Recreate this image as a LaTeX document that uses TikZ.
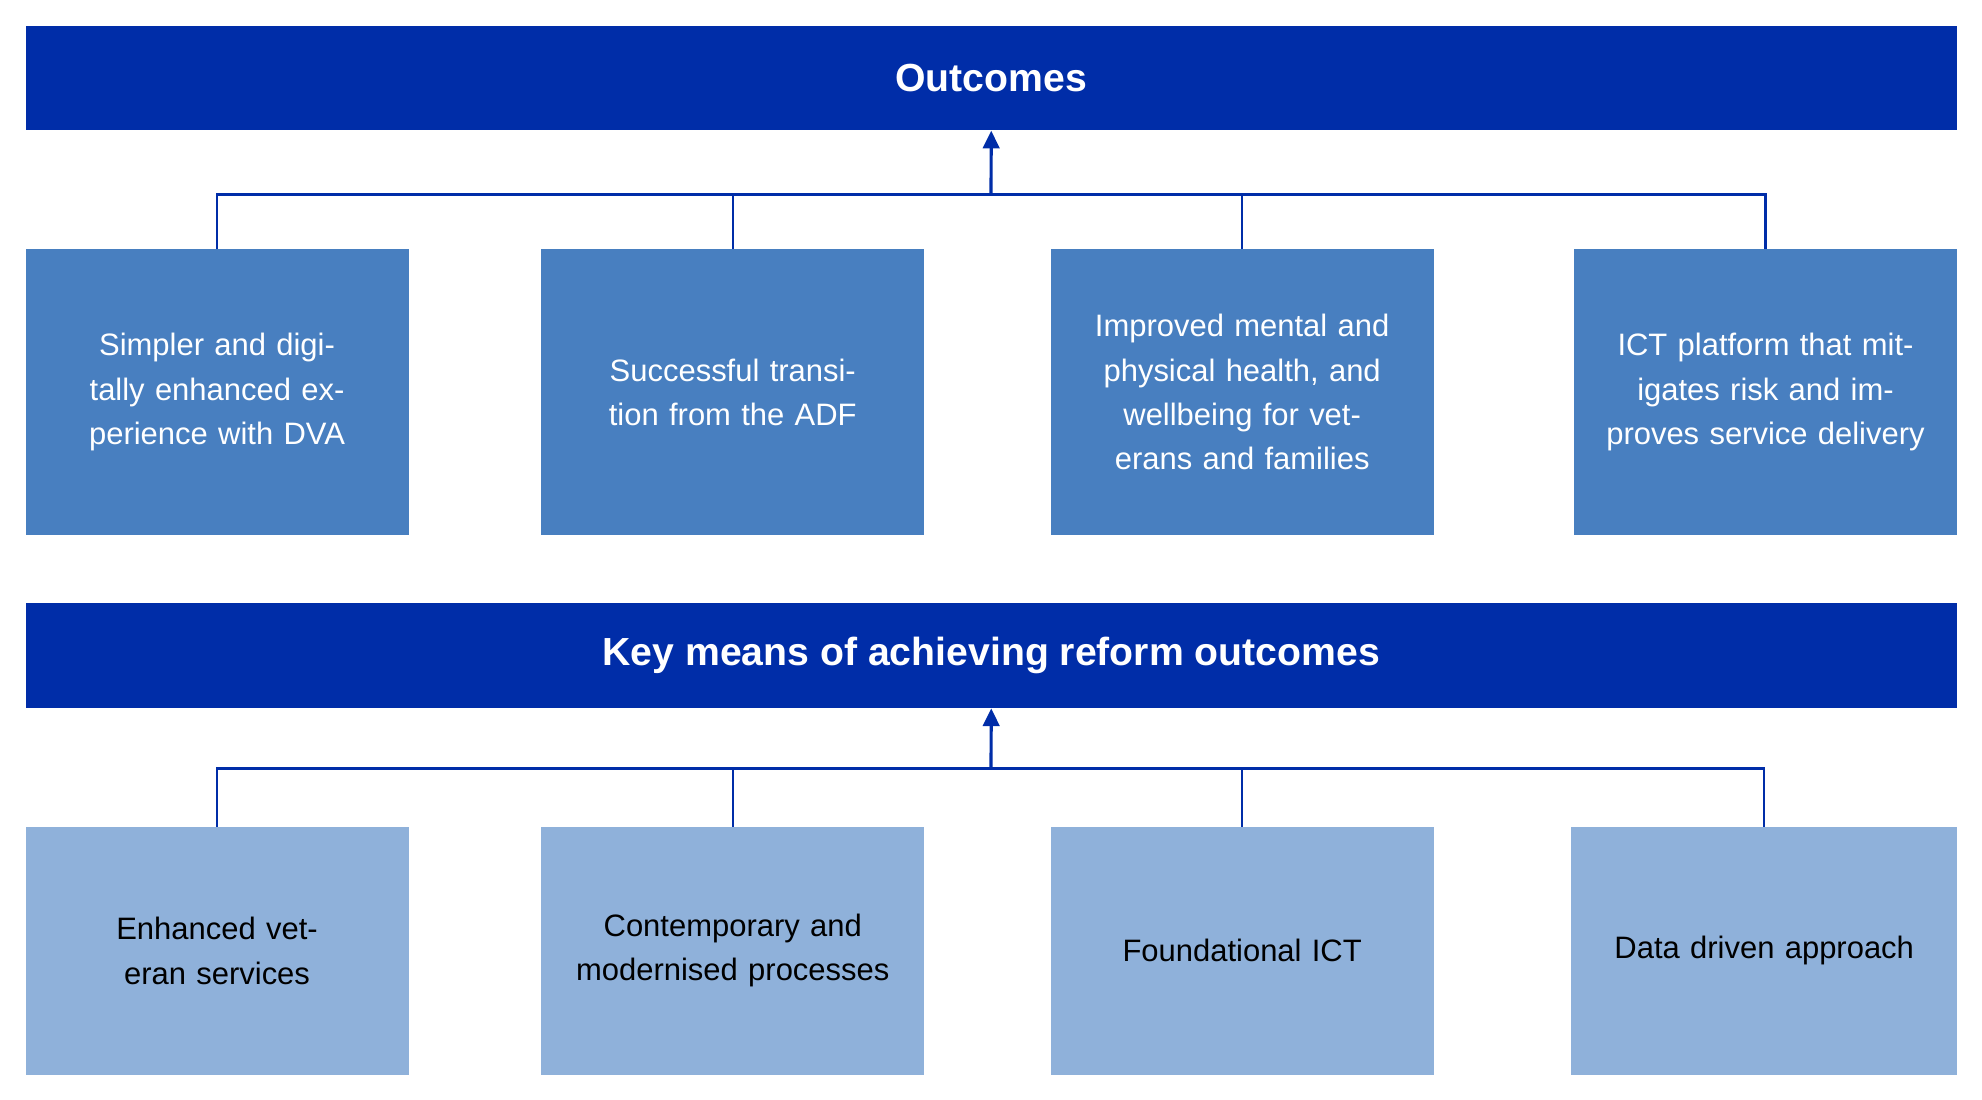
\documentclass[tikz,border=0pt]{standalone}
\usepackage{fontspec}
\setmainfont{Liberation Sans}
\usetikzlibrary{arrows.meta}
\definecolor{dark}{RGB}{0,45,168}
\definecolor{mid}{RGB}{72,127,192}
\definecolor{light}{RGB}{143,177,218}
\begin{document}
\begin{tikzpicture}[x=1pt,y=-1pt,
  bar/.style={fill=dark,draw=none,text=white,font=\fontsize{31}{37}\selectfont\bfseries,minimum width=1528pt,minimum height=83pt,anchor=north west,inner sep=0},
  obox/.style={fill=mid,draw=none,text=white,font=\fontsize{24.5}{35}\selectfont,minimum width=303pt,minimum height=226pt,anchor=north west,align=center,text width=290pt,inner sep=0},
  kbox/.style={fill=light,draw=none,text=black,font=\fontsize{24.5}{35}\selectfont,minimum width=303pt,minimum height=196pt,anchor=north west,align=center,text width=290pt,inner sep=0},
  conn/.style={draw=dark,line width=2pt},
  arr/.style={draw=dark,line width=2.5pt,-{Triangle[length=14pt,width=13pt]}}]
\useasboundingbox (0,0) rectangle (1568,870);
\node[bar] (out) at (20,20) {Outcomes};
\node[bar] (key) at (20,477) {Key means of achieving reform outcomes};
\node[obox] (o1) at (20,197) {Simpler and digitally enhanced experience with DVA};
\node[obox] (o2) at (428,197) {Successful transition from the ADF};
\node[obox] (o3) at (831,197) {Improved mental and physical health, and wellbeing for veterans and families};
\node[obox] (o4) at (1245,197) {ICT platform that mitigates risk and improves service delivery};
\node[kbox] (k1) at (20,654) {Enhanced veteran services};
\node[kbox] (k2) at (428,654) {Contemporary and modernised processes};
\node[kbox] (k3) at (831,654) {Foundational ICT};
\node[kbox,minimum width=305pt] (k4) at (1243,654) {Data driven approach};
\coordinate (j1) at (784,154);
\coordinate (j2) at (784,608);
\foreach \b in {o1,o2,o3,o4} \draw[conn] (\b.north) |- (j1);
\foreach \b in {k1,k2,k3,k4} \draw[conn] (\b.north) |- (j2);
\draw[arr] (j1) -- (out.south);
\draw[arr] (j2) -- (key.south);
\end{tikzpicture}
\end{document}
